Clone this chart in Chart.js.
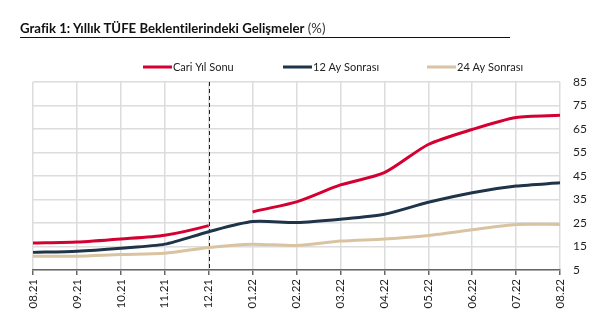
<!DOCTYPE html>
<html><head><meta charset="utf-8">
<script src="https://cdn.jsdelivr.net/npm/chart.js@4/dist/chart.umd.min.js"></script>
<style>
html,body{margin:0;padding:0;background:#fff;width:607px;height:332px;overflow:hidden;}
#title{position:absolute;left:20px;top:22px;width:490px;height:15px;border-bottom:1.5px solid #111;font-family:Lato,"Open Sans",sans-serif;font-size:13.2px;color:#111;line-height:13px;white-space:nowrap;font-variant-ligatures:none;font-feature-settings:"liga" 0,"dlig" 0;}
#title b{font-weight:700;}
#title span{font-weight:400;color:#333;}
#wrap{position:absolute;left:0;top:0;width:607px;height:332px;}
</style></head>
<body>
<div id="wrap"><canvas id="c" width="607" height="332"></canvas></div>
<div id="title"><b>Grafik 1: Yıllık TÜFE Beklentilerindeki Gelişmeler</b> <span>(%)</span></div>
<script>
const categories = ['08.21','09.21','10.21','11.21','12.21','01.22','02.22','03.22','04.22','05.22','06.22','07.22','08.22'];
const cariYilSonu = [16.5,16.9,18.2,19.8,23.9,29.7,34.0,41.2,46.4,58.4,64.8,69.9,70.8];
const ay12Sonrasi = [12.5,13.0,14.3,16.0,21.3,25.6,25.2,26.6,28.7,33.8,37.9,40.7,42.1];
const ay24Sonrasi = [10.8,10.9,11.6,12.1,14.6,16.0,15.4,17.3,18.2,19.7,22.1,24.4,24.4];
const seriesNames = ['Cari Yıl Sonu','12 Ay Sonrası','24 Ay Sonrası'];
const yTicks = [5,15,25,35,45,55,65,75,85];
const markerCategory = '12.21';
const breakAfter = '12.21';

const colors = ['#D50032','#1F3349','#D9C3A1'];
const breakIdx = categories.indexOf(breakAfter);

const legendPlugin = {
  id:'customLegend',
  afterDraw(chart){
    const ctx = chart.ctx;
    const xs = [143, 283, 427];
    const y = 67;
    ctx.save();
    chart.data.datasets.forEach((ds,i)=>{
      ctx.strokeStyle = ds.borderColor;
      ctx.lineWidth = 3;
      ctx.beginPath();
      ctx.moveTo(xs[i], y);
      ctx.lineTo(xs[i]+29, y);
      ctx.stroke();
      ctx.fillStyle = '#222';
      ctx.font = '11px Lato, "Open Sans", sans-serif';
      ctx.textBaseline = 'middle';
      ctx.fillText(ds.label, xs[i]+30, y);
    });
    ctx.restore();
  }
};
const markerPlugin = {
  id:'marker',
  beforeDatasetsDraw(chart){
    const x = chart.scales.x.getPixelForValue(categories.indexOf(markerCategory));
    const a = chart.chartArea;
    const ctx = chart.ctx;
    ctx.save();
    ctx.strokeStyle = '#222';
    ctx.lineWidth = 1;
    ctx.setLineDash([4,3]);
    ctx.beginPath();
    ctx.moveTo(Math.round(x)+0.5, a.top);
    ctx.lineTo(Math.round(x)+0.5, a.bottom);
    ctx.stroke();
    ctx.restore();
  }
};

new Chart(document.getElementById('c'), {
  type:'line',
  data:{
    labels: categories,
    datasets:[
      {label:seriesNames[0], data:cariYilSonu, borderColor:colors[0], backgroundColor:colors[0],
       segment:{borderColor: c => c.p0DataIndex === breakIdx ? 'rgba(0,0,0,0)' : undefined}},
      {label:seriesNames[1], data:ay12Sonrasi, borderColor:colors[1], backgroundColor:colors[1]},
      {label:seriesNames[2], data:ay24Sonrasi, borderColor:colors[2], backgroundColor:colors[2]}
    ]
  },
  options:{
    responsive:false,
    animation:false,
    devicePixelRatio:1,
    layout:{padding:{left:33, top:82, right:0, bottom:0}},
    elements:{line:{borderWidth:3, tension:0.25, borderCapStyle:'butt'}, point:{radius:0}},
    plugins:{legend:{display:false}, tooltip:{enabled:false}},
    scales:{
      x:{
        offset:false,
        grid:{color:'#dcdcdc', lineWidth:1.5, tickColor:'#666', tickLength:5, drawOnChartArea:true},
        border:{color:'#666', width:1.5},
        ticks:{minRotation:90, maxRotation:90, color:'#222', font:{family:'Lato, "Open Sans", sans-serif', size:11.5}, padding:4, autoSkip:false},
        afterFit(s){ s.height = 62; }
      },
      y:{
        position:'right',
        min:5, max:85,
        afterBuildTicks(s){ s.ticks = yTicks.map(v=>({value:v})); },
        grid:{color:'#dcdcdc', lineWidth:1.5, drawTicks:false},
        border:{display:false},
        ticks:{color:'#222', font:{family:'Lato, "Open Sans", sans-serif', size:12}, padding:13},
        afterFit(s){ s.width = 47; }
      }
    }
  },
  plugins:[markerPlugin, legendPlugin]
});
</script>
</body></html>
